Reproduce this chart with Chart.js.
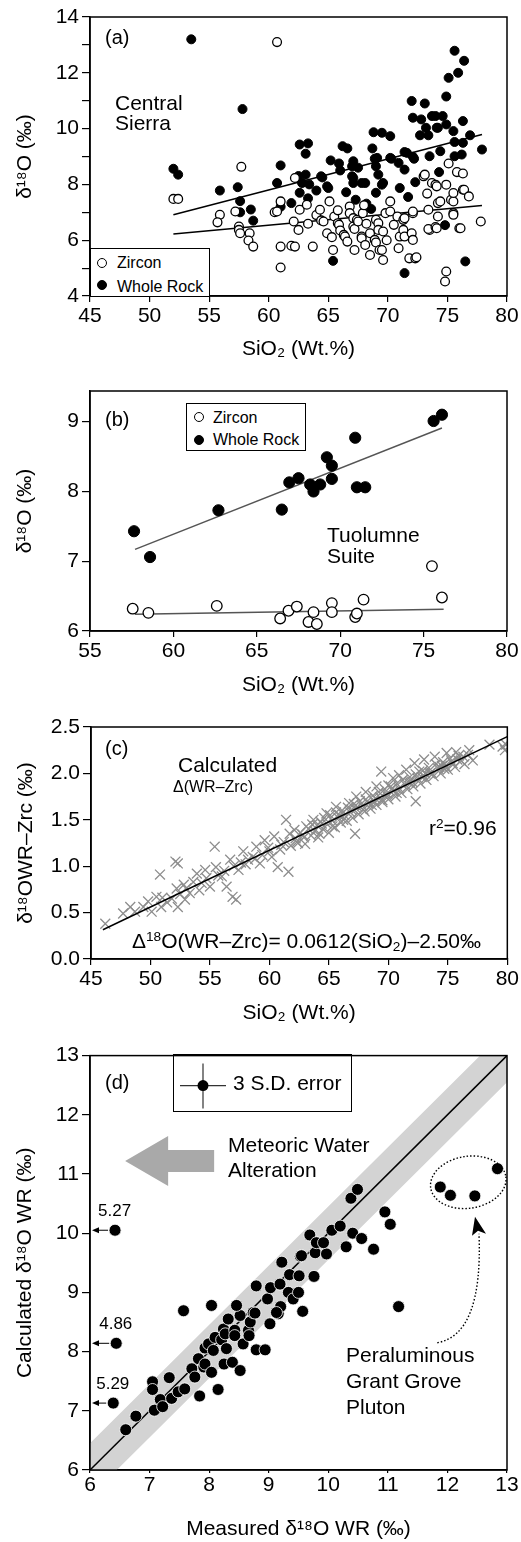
<!DOCTYPE html>
<html lang="en">
<head>
<meta charset="utf-8">
<title>δ18O vs SiO2 – Central Sierra plutons</title>
<script src="https://cdn.jsdelivr.net/npm/chart.js@4"></script>
<style>
  body { margin: 0; background: #fff; font-family: "Liberation Sans", Arial, Helvetica, sans-serif; color: #000; }
  #page { position: relative; width: 521px; height: 1542px; overflow: hidden; }
  canvas { position: absolute; left: 0; }
  .note { position: absolute; font-size: 21px; line-height: 24px; white-space: nowrap; }
  .tag { position: absolute; font-size: 20px; line-height: 24px; white-space: nowrap; }
  .leg { position: absolute; font-size: 16px; line-height: 18px; white-space: nowrap; }
  .small { position: absolute; font-size: 17px; line-height: 19px; white-space: nowrap; }
  .box { position: absolute; border: 1.5px solid #000; background: #fff; box-sizing: border-box; }
  .dot { position: absolute; width: 10px; height: 10px; border-radius: 50%; box-sizing: border-box; border: 1.5px solid #000; background: #fff; }
  .dot.full { background: #000; }
  sup { font-size: 65%; vertical-align: 0.55em; line-height: 0; }
  sub { font-size: 65%; vertical-align: -0.25em; line-height: 0; }
</style>
</head>
<body>
<div id="page">
  <canvas id="chartA" width="521" height="375" style="top:0"></canvas>
  <canvas id="chartB" width="521" height="345" style="top:360px"></canvas>
  <canvas id="chartC" width="521" height="345" style="top:700px"></canvas>
  <canvas id="chartD" width="521" height="502" style="top:1040px"></canvas>

  <!-- (a) -->
  <div class="tag" style="left:105px;top:25px">(a)</div>
  <div class="note" style="left:115px;top:93px;line-height:20px">Central<br>Sierra</div>
  <div class="box" style="left:90px;top:248px;width:120px;height:49px"></div>
  <div class="dot" style="left:97px;top:258px"></div>
  <div class="leg" style="left:117px;top:254px">Zircon</div>
  <div class="dot full" style="left:97px;top:280px"></div>
  <div class="leg" style="left:117px;top:278px">Whole Rock</div>

  <!-- (b) -->
  <div class="tag" style="left:105px;top:407px">(b)</div>
  <div class="box" style="left:186px;top:403px;width:120px;height:48px"></div>
  <div class="dot" style="left:194px;top:412px"></div>
  <div class="leg" style="left:213px;top:409px">Zircon</div>
  <div class="dot full" style="left:194px;top:435px"></div>
  <div class="leg" style="left:213px;top:431px">Whole Rock</div>
  <div class="note" style="left:327px;top:524px;line-height:21px">Tuolumne<br>Suite</div>

  <!-- (c) -->
  <div class="tag" style="left:105px;top:736px">(c)</div>
  <div class="note" style="left:178px;top:753px">Calculated</div>
  <div class="leg" style="left:173px;top:778px">Δ(WR–Zrc)</div>
  <div class="note" style="left:429px;top:816px">r<sup>2</sup>=0.96</div>
  <div class="note" style="left:132px;top:929px">Δ<sup>18</sup>O(WR–Zrc)= 0.0612(SiO<sub>2</sub>)–2.50‰</div>

  <!-- (d) -->
  <div class="tag" style="left:105px;top:1070px">(d)</div>
  <div class="box" style="left:173px;top:1054px;width:179px;height:58px;background:transparent"></div>
  <div class="note" style="left:233px;top:1071px">3 S.D. error</div>
  <div class="note" style="left:228px;top:1132px;line-height:25px">Meteoric Water<br>Alteration</div>
  <div class="note" style="left:346px;top:1342px;line-height:26px">Peraluminous<br>Grant Grove<br>Pluton</div>
</div>

<script>
// ---------- data ----------
// (a) Central Sierra: [SiO2 wt.%, d18O permil]
const aWholeRock = [
  [53.5,13.2],[52.0,8.56],[52.4,8.35],[57.8,10.7],[55.9,7.78],[57.4,7.9],[57.6,7.4],[57.6,7.0],[58.5,7.1],[58.7,6.7],
  [60.7,8.05],[61.0,8.68],[61.0,7.2],[61.9,7.33],[62.6,9.43],[63.3,9.47],[63.1,9.1],[62.5,8.3],[63.1,8.35],[63.4,8.0],
  [62.8,8.05],[62.6,7.7],[63.3,7.5],[64.0,7.78],[64.4,8.29],[64.5,8.25],[65.0,7.87],[64.9,7.93],[65.2,8.86],[65.9,8.75],
  [66.0,8.5],[65.4,5.26],[66.2,9.37],[66.6,9.29],[66.5,7.72],[67.1,8.23],[67.0,8.65],[67.5,8.6],[67.1,8.83],[67.0,8.29],
  [67.1,8.05],[67.3,7.45],[68.2,7.31],[68.6,7.12],[67.8,8.05],[68.1,8.05],[68.7,9.29],[68.8,9.87],[69.5,9.85],[70.2,9.73],
  [68.9,8.92],[69.1,8.95],[69.0,8.65],[69.2,8.35],[69.5,7.99],[69.6,8.05],[69.0,7.7],[70.3,8.92],[70.2,8.95],[70.9,8.77],
  [71.0,7.87],[71.4,8.53],[71.4,9.16],[71.6,9.13],[71.7,7.55],[71.4,4.82],[72.1,8.99],[72.2,8.92],[72.3,8.08],[72.0,10.99],
  [73.1,10.9],[72.1,10.39],[72.8,10.33],[72.7,9.76],[73.4,9.76],[73.2,10.03],[73.7,10.45],[74.0,10.45],[74.1,10.03],[74.2,10.03],
  [74.6,10.45],[74.9,10.15],[73.5,9.01],[74.4,9.19],[74.3,8.44],[74.9,11.15],[75.1,11.82],[75.9,12.0],[75.6,12.79],[76.4,12.43],
  [76.3,10.27],[75.5,9.91],[75.6,9.52],[76.3,9.49],[75.6,9.01],[76.2,9.07],[76.9,9.76],[77.9,9.25],[74.8,6.54],[76.5,5.24]
];
const aZircon = [
  [60.7,13.1],[57.7,8.63],[52.0,7.48],[52.4,7.48],[55.9,6.91],[55.7,6.64],[57.2,7.03],[57.5,6.49],[57.5,6.37],[57.6,6.25],
  [58.4,6.25],[58.3,5.99],[58.7,5.77],[60.5,7.0],[60.7,7.03],[61.0,7.39],[61.0,5.77],[61.0,5.02],[61.9,5.8],[62.2,5.77],
  [62.2,8.23],[62.1,6.67],[62.5,6.37],[63.3,6.59],[62.6,7.09],[63.2,7.27],[63.7,5.77],[64.0,6.9],[64.3,7.09],[64.4,6.71],
  [64.6,6.67],[64.9,6.25],[65.3,6.11],[65.4,5.65],[65.1,7.39],[65.5,6.85],[65.8,7.07],[65.8,6.61],[65.9,6.55],[66.0,6.35],
  [66.3,6.19],[66.4,6.13],[66.6,5.95],[66.8,7.21],[66.8,6.97],[67.1,6.79],[67.1,6.49],[67.2,6.4],[67.2,5.65],[67.4,6.73],
  [67.5,6.67],[67.9,6.97],[67.8,6.13],[67.8,6.07],[68.0,7.25],[68.1,5.83],[68.5,5.47],[68.2,6.59],[68.5,6.25],[68.9,6.01],
  [69.0,6.73],[69.2,6.61],[69.2,6.37],[69.0,5.92],[69.3,5.65],[69.5,5.65],[69.6,5.29],[69.6,6.31],[69.8,6.97],[69.9,6.0],
  [70.2,7.39],[70.2,7.03],[70.5,6.55],[70.8,6.85],[70.9,5.71],[71.0,6.13],[71.3,6.73],[71.4,6.79],[71.3,6.37],[71.4,6.13],
  [71.8,5.35],[72.3,5.35],[72.4,5.39],[72.0,6.25],[72.1,6.01],[72.1,6.97],[72.1,7.03],[73.0,8.29],[73.1,8.35],[73.3,7.67],
  [73.4,7.09],[73.5,6.37],[73.4,6.4],[74.0,6.47],[74.1,6.43],[73.7,8.05],[74.0,7.99],[74.1,7.93],[74.9,7.99],[74.2,7.33],
  [74.4,7.39],[74.2,6.85],[75.3,7.45],[75.5,7.39],[75.5,7.69],[75.5,6.97],[75.5,6.91],[76.0,6.43],[76.1,6.43],[75.1,8.75],
  [75.8,8.44],[76.3,8.39],[76.3,7.81],[76.4,7.81],[76.8,7.57],[77.8,6.67],[74.9,4.88],[74.8,4.52]
];
const aWholeRockFit = [[52.0,6.91],[77.9,9.79]];
const aZirconFit = [[52.0,6.22],[77.9,7.24]];
const aXTicks = [45,50,55,60,65,70,75,80];
const aYTicks = [4,5,6,7,8,9,10,11,12,13,14];
const aYLabels = [4,6,8,10,12,14];

// (b) Tuolumne Suite
const bWholeRock = [
  [57.64,7.43],[58.6,7.06],[62.7,7.73],[66.5,7.74],[66.95,8.13],[67.5,8.19],[68.2,8.10],[68.4,8.0],[68.8,8.10],
  [69.2,8.49],[69.5,8.37],[69.5,8.18],[70.9,8.77],[71.0,8.06],[71.5,8.06],[75.6,9.01],[76.1,9.1]
];
const bZircon = [
  [57.56,6.32],[58.5,6.26],[62.6,6.36],[66.4,6.18],[66.9,6.29],[67.4,6.35],[68.1,6.13],[68.4,6.27],[68.6,6.10],
  [69.5,6.40],[69.5,6.27],[70.9,6.20],[71.0,6.25],[71.4,6.45],[75.5,6.93],[76.1,6.48]
];
const bWholeRockFit = [[57.7,7.17],[76.1,8.91]];
const bZirconFit = [[57.7,6.24],[76.2,6.31]];
const bXTicks = [55,60,65,70,75,80];
const bYTicks = [6,7,8,9];

// (c) calculated Delta18O(WR-Zrc)
const cCalculated = [
  [46.2,0.38],[47.7,0.49],[48.3,0.56],[48.7,0.51],[49.4,0.56],[49.8,0.62],[50.1,0.51],[50.5,0.67],[50.8,0.91],[50.9,0.56],
  [51.0,0.66],[51.4,0.61],[51.8,0.65],[52.1,1.05],[52.3,1.03],[52.2,0.76],[52.3,0.56],[52.5,0.70],[52.8,0.80],[52.9,0.64],
  [53.0,0.76],[53.3,0.71],[53.6,0.83],[53.9,0.92],[54.1,0.74],[54.3,0.82],[54.6,0.96],[54.7,0.87],[55.0,0.78],[55.4,1.21],
  [55.5,0.99],[55.7,0.90],[56.0,0.89],[56.2,0.95],[56.4,0.78],[56.7,1.07],[56.9,0.67],[57.0,1.00],[57.2,0.64],[57.4,0.96],
  [57.6,1.04],[57.8,1.16],[58.0,1.02],[58.2,1.07],[58.6,1.10],[58.8,1.08],[58.9,1.21],[59.2,1.03],[59.4,1.12],[59.6,1.28],
  [59.9,1.20],[60.0,1.16],[60.2,1.10],[60.4,1.32],[60.7,0.99],[60.9,1.18],[61.0,1.23],[61.2,1.26],[61.4,1.50],[61.6,0.94],
  [61.7,1.35],[61.8,1.22],[62.1,1.39],[62.3,1.26],[62.8,1.34],[63.1,1.43],
  [62.2,1.30],[62.4,1.25],[62.6,1.36],[62.9,1.31],[63.0,1.24],[63.3,1.40],[63.5,1.33],[63.6,1.45],[63.8,1.38],[64.0,1.44],
  [64.1,1.31],[64.3,1.48],[64.5,1.40],[64.6,1.52],[64.8,1.46],[65.0,1.36],[65.1,1.55],[65.3,1.49],[65.5,1.42],[65.6,1.58],
  [65.8,1.52],[66.0,1.47],[66.1,1.60],[66.3,1.55],[66.5,1.49],[66.6,1.63],[66.8,1.58],[67.0,1.52],[67.1,1.67],[67.3,1.62],
  [67.5,1.56],[67.6,1.70],[67.8,1.65],[68.0,1.59],[68.1,1.72],[68.3,1.68],[68.5,1.62],[68.7,1.76],[68.8,1.70],[69.0,1.66],
  [69.2,1.80],[69.3,1.74],[69.5,1.69],[69.7,1.83],[69.9,1.78],[70.0,1.72],[70.2,1.86],[70.4,1.81],[70.6,1.75],[70.7,1.89],
  [70.9,1.84],[71.1,1.79],[71.2,1.93],[71.4,1.88],[71.6,1.83],[71.8,1.96],[72.0,1.91],[72.1,1.86],[72.3,1.99],[72.5,1.94],
  [72.7,1.89],[72.9,2.03],[73.0,1.97],[73.2,1.93],[73.4,2.06],[73.6,2.01],[73.8,1.97],[74.0,2.10],[74.2,2.05],[74.4,2.00],
  [74.6,2.12],[74.8,2.08],[75.0,2.04],[75.2,2.16],[75.4,2.11],[75.6,2.07],[75.9,2.19],[76.1,2.14],[76.4,2.10],[76.7,2.20],
  [63.7,1.50],[64.2,1.35],[64.8,1.57],[65.3,1.43],[65.6,1.64],[66.2,1.50],[66.7,1.68],[67.2,1.35],[67.3,1.75],[67.9,1.61],
  [68.1,1.80],[68.6,1.66],[69.0,1.86],[69.4,2.02],[69.5,1.71],[70.0,1.87],[70.4,1.95],[70.7,1.79],[70.9,1.98],[71.5,2.04],
  [71.8,1.91],[72.2,2.11],[72.3,1.70],[72.6,2.02],[73.0,2.15],[73.5,2.00],[73.9,2.18],[74.3,2.07],[74.9,2.22],[75.3,2.13],
  [75.7,2.23],[76.3,2.18],[76.8,2.25],[77.1,2.14],[78.5,2.31],[79.6,2.29],[79.9,2.31],[79.8,2.25],
  [64.4,1.46],[65.9,1.55],[67.4,1.64],[68.9,1.73],[70.3,1.83],[71.7,1.90],[73.1,2.00],[74.5,2.08],[75.8,2.15],[66.9,1.61],
  [69.8,1.77],[72.8,1.96],[74.7,2.05]
];
const cFit = [[46,0.315],[80,2.396]];
const cXTicks = [45,50,55,60,65,70,75,80];
const cYTicks = [0,0.5,1.0,1.5,2.0,2.5];

// (d) calculated vs measured d18O WR
const dWholeRock = [
  [6.60,6.68],[6.77,6.91],[7.05,7.49],[7.05,7.36],[7.08,7.01],[7.18,7.19],[7.22,7.07],[7.33,7.56],[7.37,7.21],[7.48,7.32],
  [7.59,7.37],[7.84,7.25],[8.15,7.36],[7.71,7.71],[7.76,7.57],[7.82,7.88],[7.91,7.74],[7.93,7.79],[8.04,7.65],[8.25,7.79],
  [8.39,7.82],[8.52,7.68],[7.93,8.06],[7.99,8.13],[8.07,8.02],[8.10,8.24],[8.21,8.20],[8.29,8.05],[8.24,8.38],[8.27,8.30],
  [8.43,8.36],[8.43,8.27],[8.57,8.13],[8.66,8.36],[8.67,8.27],[8.79,8.03],[8.94,8.03],[8.32,8.55],[8.52,8.61],[8.69,8.50],
  [8.74,8.66],[8.46,8.78],[8.04,8.78],[7.57,8.69],[9.02,8.47],[9.16,8.64],[9.20,8.76],[9.57,8.68],[8.98,8.89],[8.79,9.11],
  [9.03,9.08],[9.19,9.14],[9.33,9.00],[9.41,8.89],[9.50,9.00],[9.35,9.30],[9.51,9.28],[9.76,9.27],[9.22,9.51],[9.53,9.61],
  [9.55,9.62],[9.78,9.67],[9.97,9.65],[9.69,9.97],[9.80,9.84],[9.92,9.84],[10.06,10.05],[10.20,10.12],[10.41,10.00],[10.56,9.91],
  [10.30,9.77],[10.76,9.73],[10.95,10.36],[11.04,10.15],[10.38,10.59],[10.49,10.74],[11.18,8.76],[9.13,8.66],[8.77,8.65]
];
const dGrantGrove = [[11.88,10.78],[12.05,10.64],[12.46,10.63],[12.84,11.09]];
const dOffscale = [[6.42,10.05],[6.44,8.14],[6.39,7.13]];
const dOffscaleMeasured = ['5.27','4.86','5.29'];
const dOneToOne = [[6,6],[13,13]];
const dErrorBand = [[6,6.45],[12.55,13],[13,13],[13,12.55],[6.45,6],[6,6]];
const dTicks = [6,7,8,9,10,11,12,13];

// ---------- helpers ----------
const FONT = '"Liberation Sans", Arial, Helvetica, sans-serif';
const pts = arr => arr.map(([x, y]) => ({ x, y }));

function makeAxis(o) {
  const labels = o.labels || o.ticks;
  return {
    type: 'linear',
    position: o.position,
    min: o.min, max: o.max,
    afterBuildTicks: s => { s.ticks = o.ticks.map(v => ({ value: v })); },
    afterFit: s => { if (o.position === 'left') s.width = o.size; else s.height = o.size; },
    ticks: {
      color: '#000', padding: o.tickPad, autoSkip: false, maxRotation: 0,
      font: { family: FONT, size: 21 },
      callback: v => labels.includes(v) ? (o.fmt ? o.fmt(v) : String(v)) : ''
    },
    grid: { drawOnChartArea: false, drawTicks: true, tickLength: o.tickLen, color: '#000', lineWidth: 1.2 },
    border: { display: true, color: '#000', width: 1.5 },
    title: { display: true, text: o.title, color: '#000', font: { family: FONT, size: 21 }, padding: o.titlePad }
  };
}

const framePlugin = {
  id: 'frame',
  afterDatasetsDraw(chart) {
    const { ctx, chartArea: a } = chart;
    ctx.save();
    ctx.strokeStyle = '#000';
    ctx.lineWidth = 1.5;
    ctx.strokeRect(a.left, a.top, a.right - a.left, a.bottom - a.top);
    ctx.restore();
  }
};

function scatterChart(id, datasets, scales, padding, extra) {
  return new Chart(document.getElementById(id), {
    type: 'scatter',
    data: { datasets },
    options: {
      responsive: false, animation: false, events: [],
      layout: { padding },
      plugins: { legend: { display: false }, tooltip: { enabled: false } },
      scales
    },
    plugins: [framePlugin].concat(extra || [])
  });
}

function fitLine(data, color, order) {
  return { data: pts(data), showLine: true, pointRadius: 0, borderColor: color, borderWidth: 1.5, order };
}
function openDots(data, r, order) {
  return { data: pts(data), pointRadius: r, backgroundColor: '#fff', borderColor: '#000', borderWidth: 1.3, order };
}
function fullDots(data, r, order, edge) {
  return { data: pts(data), pointRadius: r, backgroundColor: '#000', borderColor: edge || '#000', borderWidth: edge ? 0.8 : 1, order };
}

// ---------- (a) ----------
scatterChart('chartA', [
  fitLine(aWholeRockFit, '#000', 5),
  fitLine(aZirconFit, '#000', 5),
  fullDots(aWholeRock, 4.5, 3),
  openDots(aZircon, 4.4, 2)
], {
  x: makeAxis({ position: 'bottom', min: 45, max: 80, ticks: aXTicks, size: 79, tickLen: 6, tickPad: 2, title: 'SiO₂ (Wt.%)', titlePad: { bottom: 13 } }),
  y: makeAxis({ position: 'left', min: 4, max: 14, ticks: aYTicks, labels: aYLabels, size: 90, tickLen: 8, tickPad: 3, title: 'δ¹⁸O (‰)', titlePad: { top: 13 } })
}, { top: 17, right: 14, left: 0, bottom: 0 });

// ---------- (b) ----------
scatterChart('chartB', [
  fitLine(bWholeRockFit, '#555', 5),
  fitLine(bZirconFit, '#555', 5),
  fullDots(bWholeRock, 5.6, 3),
  openDots(bZircon, 5.3, 2)
], {
  x: makeAxis({ position: 'bottom', min: 55, max: 80, ticks: bXTicks, size: 74, tickLen: 6, tickPad: 2, title: 'SiO₂ (Wt.%)', titlePad: { bottom: 7 } }),
  y: makeAxis({ position: 'left', min: 6, max: 9.44, ticks: bYTicks, size: 90, tickLen: 8, tickPad: 3, title: 'δ¹⁸O (‰)', titlePad: { top: 13 } })
}, { top: 31, right: 14, left: 0, bottom: 0 });

// ---------- (c) ----------
scatterChart('chartC', [
  { data: pts(cCalculated), pointStyle: 'crossRot', pointRadius: 7, borderColor: '#8d8d8d', borderWidth: 1.3, order: 3 },
  fitLine(cFit, '#000', 1)
], {
  x: makeAxis({ position: 'bottom', min: 45, max: 80, ticks: cXTicks, size: 86, tickLen: 6, tickPad: 2, title: 'SiO₂ (Wt.%)', titlePad: { bottom: 19 } }),
  y: makeAxis({ position: 'left', min: 0, max: 2.5, ticks: cYTicks, size: 90, tickLen: 8, tickPad: 3, fmt: v => v.toFixed(1), title: 'δ¹⁸OWR–Zrc (‰)', titlePad: { top: 13 } })
}, { top: 27, right: 13, left: 1, bottom: 0 });

// ---------- (d) ----------
const panelDPlugin = {
  id: 'panelD',
  beforeDatasetsDraw(chart) {
    const { ctx, scales: { x, y } } = chart;
    // meteoric water alteration arrow (grey, pointing left)
    const tx = x.getPixelForValue(6.59), cy = y.getPixelForValue(11.22);
    ctx.save();
    ctx.fillStyle = '#a9a9a9';
    ctx.beginPath();
    ctx.moveTo(tx, cy);
    ctx.lineTo(tx + 43, cy - 25);
    ctx.lineTo(tx + 43, cy - 11);
    ctx.lineTo(tx + 89, cy - 11);
    ctx.lineTo(tx + 89, cy + 11);
    ctx.lineTo(tx + 43, cy + 11);
    ctx.lineTo(tx + 43, cy + 25);
    ctx.closePath();
    ctx.fill();
    ctx.restore();
  },
  afterDatasetsDraw(chart) {
    const { ctx, chartArea: a, scales: { x, y } } = chart;
    ctx.save();
    // arrows from off-scale points to the axis
    ctx.strokeStyle = '#000'; ctx.fillStyle = '#000'; ctx.lineWidth = 1;
    dOffscale.forEach(([vx, vy]) => {
      const px = x.getPixelForValue(vx) - 7, py = y.getPixelForValue(vy);
      ctx.beginPath(); ctx.moveTo(px, py); ctx.lineTo(a.left + 6, py); ctx.stroke();
      ctx.beginPath(); ctx.moveTo(a.left + 2, py); ctx.lineTo(a.left + 9, py - 3); ctx.lineTo(a.left + 9, py + 3); ctx.closePath(); ctx.fill();
    });
    // dotted ellipse round the Grant Grove samples
    ctx.setLineDash([1.5, 2]);
    ctx.lineWidth = 1.4;
    ctx.beginPath();
    ctx.ellipse(x.getPixelForValue(12.35), y.getPixelForValue(10.86), 38, 26, -0.15, 0, Math.PI * 2);
    ctx.stroke();
    // dotted curved arrow from the label
    const sx = x.getPixelForValue(11.83), sy = y.getPixelForValue(8.15);
    const ex = x.getPixelForValue(12.53), ey = y.getPixelForValue(9.99);
    ctx.beginPath();
    ctx.moveTo(sx, sy);
    ctx.quadraticCurveTo(ex + 4, sy - 8, ex, ey);
    ctx.stroke();
    ctx.setLineDash([]);
    ctx.beginPath();
    ctx.moveTo(ex - 4, ey - 17);
    ctx.lineTo(ex - 7, ey + 2);
    ctx.lineTo(ex - 1, ey - 3);
    ctx.lineTo(ex + 7, ey);
    ctx.closePath();
    ctx.fill();
    // error-bar legend symbol
    const cx = a.left + 113, cyl = a.top + 30;
    ctx.strokeStyle = '#333'; ctx.lineWidth = 1.2;
    ctx.beginPath();
    ctx.moveTo(cx, cyl - 22); ctx.lineTo(cx, cyl + 23);
    ctx.moveTo(cx - 23, cyl); ctx.lineTo(cx + 23, cyl);
    ctx.stroke();
    ctx.fillStyle = '#000';
    ctx.beginPath(); ctx.arc(cx, cyl, 5.5, 0, Math.PI * 2); ctx.fill();
    ctx.restore();
  }
};

const chartD = scatterChart('chartD', [
  { data: pts(dErrorBand), showLine: true, fill: 'shape', backgroundColor: '#d3d3d3', borderColor: 'rgba(0,0,0,0)', pointRadius: 0, order: 10 },
  fitLine(dOneToOne, '#000', 5),
  fullDots(dWholeRock, 6, 1, '#fff'),
  fullDots(dGrantGrove, 6, 1, '#fff'),
  fullDots(dOffscale, 6, 1, '#fff')
], {
  x: makeAxis({ position: 'bottom', min: 6, max: 13, ticks: dTicks, size: 72, tickLen: 3, tickPad: 0, title: 'Measured δ¹⁸O WR (‰)', titlePad: { bottom: 0 } }),
  y: makeAxis({ position: 'left', min: 6, max: 13, ticks: dTicks, size: 90, tickLen: 8, tickPad: 3, title: 'Calculated δ¹⁸O WR (‰)', titlePad: { top: 13 } })
}, { top: 14, right: 14, left: 0, bottom: 0 }, [panelDPlugin]);

// labels with the measured values of the off-scale samples
const page = document.getElementById('page');
const canvasTopD = 1040;
dOffscale.forEach(([vx, vy], i) => {
  const el = document.createElement('div');
  el.className = 'small';
  el.textContent = dOffscaleMeasured[i];
  el.style.left = (chartD.scales.x.getPixelForValue(vx) - 17) + 'px';
  el.style.top = (canvasTopD + chartD.scales.y.getPixelForValue(vy) - 29) + 'px';
  page.appendChild(el);
});
</script>
</body>
</html>
